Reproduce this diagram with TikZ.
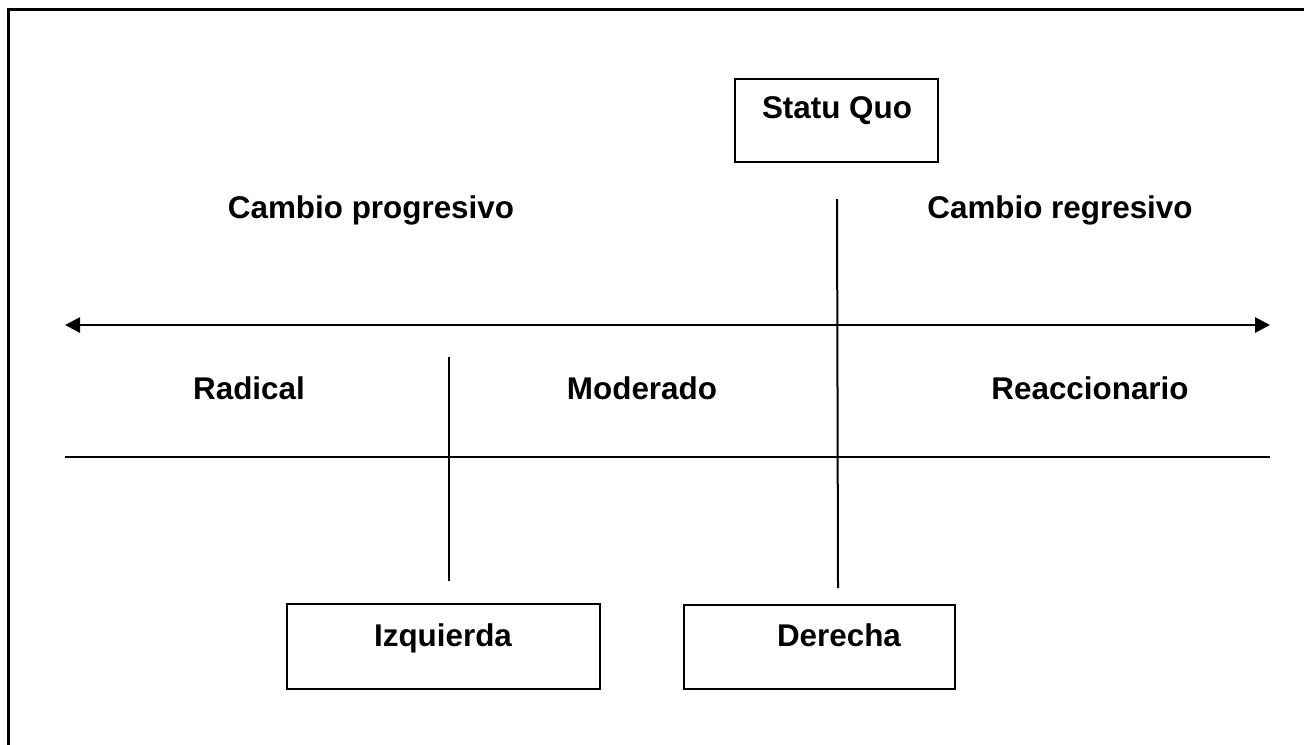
\documentclass[tikz,border=0pt]{standalone}
\usepackage{fontspec}
\setmainfont{Liberation Sans}
\usetikzlibrary{arrows.meta}
\begin{document}
\begin{tikzpicture}[x=0.5pt,y=-0.5pt,
  lbl/.style={font=\bfseries\fontsize{15.7}{19}\selectfont, inner sep=0pt, anchor=base},
  boxed/.style={draw, line width=1pt},
  thin/.style={line width=1pt},
  axis/.style={line width=1.4pt, {Triangle[length=7.5pt,width=7.5pt]}-{Triangle[length=7.5pt,width=7.5pt]}}]
\useasboundingbox (0,0) rectangle (1304,744);
% frame (top and left edges visible)
\draw[line width=1.5pt] (8,760) -- (8,9) -- (1320,9);
% boxes
\draw[boxed] (735,79) rectangle (938,162);
\node[lbl] (sq) at (837,118) {Statu Quo};
\draw[boxed] (287,604) rectangle (600,689);
\node[lbl] (izq) at (443,646) {Izquierda};
\draw[boxed] (684,605) rectangle (955,689);
\node[lbl] (der) at (839,646) {Derecha};
% labels
\node[lbl] (cp) at (371,218) {Cambio progresivo};
\node[lbl] (cr) at (1060,218) {Cambio regresivo};
\node[lbl] (rad) at (249,399) {Radical};
\node[lbl] (mod) at (642,399) {Moderado};
\node[lbl] (rea) at (1090,399) {Reaccionario};
% lines
\coordinate (aL) at (65,325);
\coordinate (aR) at (1270,325);
\draw[axis] (aL) -- (aR);
\coordinate (hL) at (65,457);
\coordinate (hR) at (1270,457);
\draw[thin] (hL) -- (hR);
\coordinate (v1t) at (449,357);
\coordinate (v1b) at (449,581);
\draw[thin] (v1t) -- (v1b);
\coordinate (v2t) at (837,199);
\coordinate (v2b) at (838,588);
\draw[thin] (v2t) -- (v2b);
\end{tikzpicture}
\end{document}
